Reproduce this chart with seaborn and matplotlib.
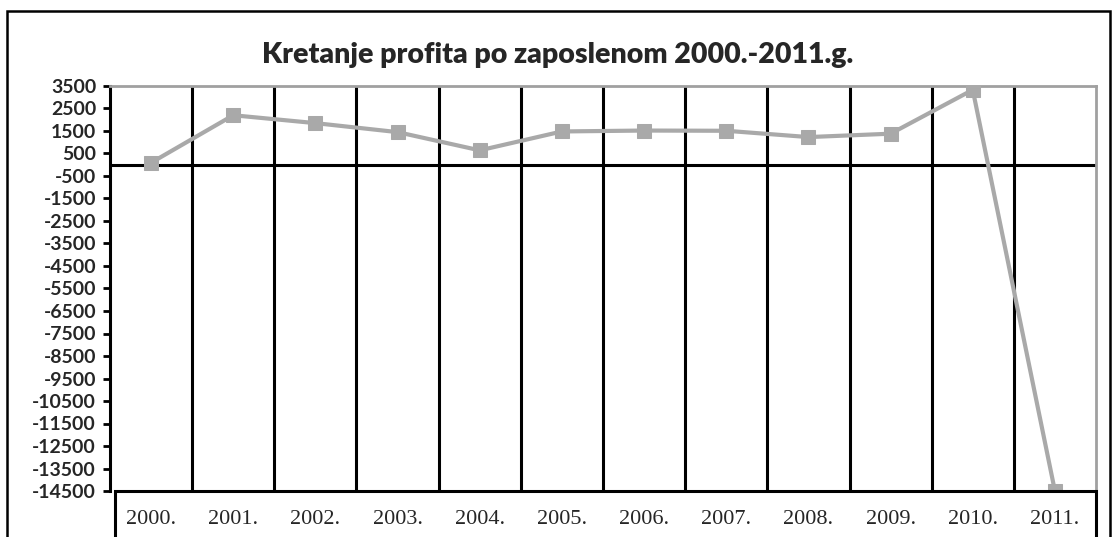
import pandas as pd
import numpy as np
import matplotlib.pyplot as plt
import seaborn as sns
from matplotlib.patches import Rectangle

# Data
years = ["2000.", "2001.", "2002.", "2003.", "2004.", "2005.",
         "2006.", "2007.", "2008.", "2009.", "2010.", "2011."]
profit = [90, 2200, 1850, 1450, 640, 1480, 1520, 1510, 1230, 1380, 3330, -14500]
y_ticks = list(range(-14500, 3501, 1000))

df = pd.DataFrame({"Godina": years, "Profit": profit})
df["pos"] = range(len(df))

sns.set_theme(style="white")
plt.rcParams["font.family"] = ["Lato", "DejaVu Sans"]

W, H = 1115, 537
fig = plt.figure(figsize=(W / 100, H / 100), dpi=100)
ax = fig.add_axes([110 / W, 1 - 491 / H, (1096 - 110) / W, (491 - 86) / H])

# vertical separators between categories
for xv in np.arange(0.5, len(years) - 0.5, 1):
    ax.axvline(xv, color="black", linewidth=2.2, zorder=1)
# zero line
ax.axhline(0, color="black", linewidth=2.2, zorder=1)

sns.lineplot(data=df, x="pos", y="Profit", ax=ax, color="#a9a9a9",
             linewidth=3, marker="s", markersize=10,
             markeredgecolor="#a9a9a9", zorder=3, legend=False)

ax.set_xlim(-0.5, len(years) - 0.5)
ax.set_ylim(-14500, 3500)
ax.set_yticks(y_ticks)
ax.set_yticklabels([str(v) for v in y_ticks], fontsize=14, fontweight="bold")
ax.set_xticks(df["pos"])
ax.set_xticklabels(years, fontsize=16, family=["Liberation Serif"])
ax.tick_params(axis="x", length=0, pad=14)
ax.tick_params(axis="y", length=5, width=2, color="black", direction="out",
               left=True, pad=5)
ax.set_xlabel("")
ax.set_ylabel("")

for side in ["top", "right"]:
    ax.spines[side].set_color("#a0a0a0")
    ax.spines[side].set_linewidth(2)
ax.spines["left"].set_color("black")
ax.spines["left"].set_linewidth(2.2)
ax.spines["bottom"].set_visible(False)

# box holding the category labels
fig.patches.append(Rectangle((115 / W, -0.05), (1096 - 115) / W, 0.05 + 1 - 491 / H,
                             transform=fig.transFigure, fill=False,
                             edgecolor="black", linewidth=2.2))
# outer chart border
fig.patches.append(Rectangle((7 / W, -0.05), (1110 - 7) / W, 0.05 + 1 - 11 / H,
                             transform=fig.transFigure, fill=False,
                             edgecolor="black", linewidth=1.8))

fig.text(0.5, 1 - 55 / H, "Kretanje profita po zaposlenom 2000.-2011.g.",
         ha="center", va="center", fontsize=20.5, fontweight="heavy")

fig.savefig("out.png", dpi=100)
